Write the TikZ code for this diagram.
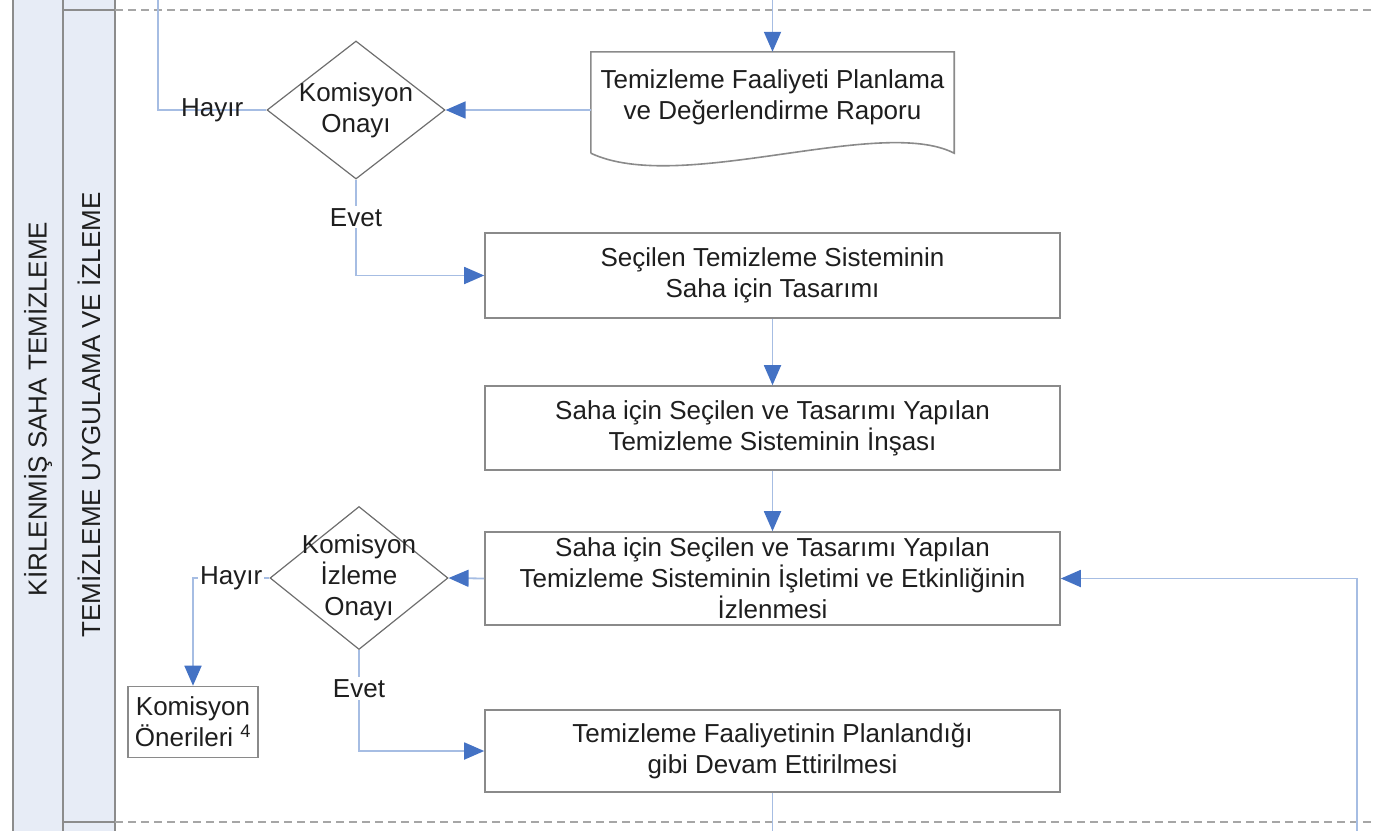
\documentclass[tikz,border=0pt]{standalone}
\usepackage{fontspec}
\setmainfont{Liberation Sans}
\usetikzlibrary{arrows.meta,shapes.geometric,calc}
\definecolor{lanefill}{HTML}{E7ECF6}
\definecolor{lanegray}{HTML}{8C8C8C}
\definecolor{dashgray}{HTML}{A6A6A6}
\definecolor{boxgray}{HTML}{8A8A8A}
\definecolor{diagray}{HTML}{6E6E6E}
\definecolor{linkblue}{HTML}{A6BDE3}
\definecolor{tipblue}{HTML}{4472C4}
\definecolor{txt}{HTML}{1E1E1E}
\begin{document}
\begin{tikzpicture}[x=1pt,y=-1pt,
  every node/.style={font=\fontsize{26}{31}\selectfont, text=txt},
  stepbox/.style={draw=boxgray, line width=1.6pt, minimum width=575pt, align=center, inner sep=0pt},
  smallbox/.style={draw=boxgray, line width=1.6pt, minimum width=130pt, minimum height=71pt, align=center, inner sep=0pt},
  dia/.style={draw=diagray, line width=1.2pt, diamond, minimum width=178pt, inner sep=0pt},
  link/.style={draw=linkblue, line width=1.8pt},
  arr/.style={link, -{Triangle[length=20pt,width=17pt,color=tipblue]}},
  lbl/.style={fill=white, inner sep=2pt},
  lanetext/.style={rotate=90},
  laneline/.style={draw=lanegray, line width=1.6pt},
  dashline/.style={draw=dashgray, line width=1.4pt, dash pattern=on 8pt off 5pt}
]
\useasboundingbox (0,0) rectangle (1375,830);
% lanes
\fill[lanefill] (13,-5) rectangle (115,835);
\draw[laneline] (13,-5) -- (13,835);
\draw[laneline] (63,-5) -- (63,835);
\draw[laneline] (115,-5) -- (115,835);
\draw[laneline] (63,10) -- (115,10);
\draw[laneline] (63,822) -- (115,822);
\draw[dashline] (115,10) -- (1380,10);
\draw[dashline] (115,822) -- (1380,822);
\node[lanetext] (lane1) at (38,409) {KİRLENMİŞ SAHA TEMİZLEME};
\node[lanetext] (lane2) at (89,415) {TEMİZLEME UYGULAMA VE İZLEME};

% nodes
\node[inner sep=0pt, minimum width=363pt, minimum height=91pt, align=center] (doc) at (772.5,97.5)
  {Temizleme Faaliyeti Planlama\\ve Değerlendirme Raporu};
\draw[draw=boxgray, line width=1.6pt] ($(doc.south west)+(0,10)$) -- (doc.north west) -- (doc.north east) -- ($(doc.south east)+(0,10)$)
  .. controls ($(doc.south east)+(-74,-28)$) and ($(doc.south west)+(89,52)$) .. ($(doc.south west)+(0,10)$);

\node[dia, minimum height=138pt] (d1) at (356,110) {};
\node[align=center] (d1t) at (d1.center) {Komisyon\\Onayı};

\node[stepbox, minimum height=85pt] (b1) at (772.5,275.5) {Seçilen Temizleme Sisteminin\\Saha için Tasarımı};
\node[stepbox, minimum height=84pt] (b2) at (772.5,428) {Saha için Seçilen ve Tasarımı Yapılan\\Temizleme Sisteminin İnşası};
\node[stepbox, minimum height=93pt] (b3) at (772.5,578.5) {Saha için Seçilen ve Tasarımı Yapılan\\Temizleme Sisteminin İşletimi ve Etkinliğinin\\İzlenmesi};
\node[stepbox, minimum height=82pt] (b4) at (772.5,751) {Temizleme Faaliyetinin Planlandığı\\gibi Devam Ettirilmesi};

\node[dia, minimum height=143pt] (d2) at (359,578) {};
\node[align=center] (d2t) at (d2.center) {Komisyon\\İzleme\\Onayı};

\node[smallbox] (kb) at (193,722) {Komisyon\\Önerileri \textsuperscript{4}};

% free ends
\coordinate (topin) at (772.5,-5);
\coordinate (topout) at (158,-5);
\coordinate (botout) at (772.5,835);
\coordinate (loopin) at (1357,835);

% connectors
\draw[arr] (topin) -- (doc.north);
\draw[arr] (doc.west |- d1.east) -- (d1.east);
\draw[link] (d1.west) -| node[pos=0.25, inner sep=0pt] {Hayır} (topout);
\draw[arr] (d1.south) |- node[pos=0.197, lbl] {Evet} (b1.west);
\draw[arr] (b1.south) -- (b2.north);
\draw[arr] (b2.south) -- (b3.north);
\draw[arr] (b3.west) -- (d2.east);
\draw[arr] (d2.west) -| node[pos=0.25, lbl] {Hayır} (kb.north);
\draw[arr] (d2.south) |- node[pos=0.19, lbl] {Evet} (b4.west);
\draw[link] (b4.south) -- (botout);
\draw[arr] (loopin) |- (b3.east);
\end{tikzpicture}
\end{document}
